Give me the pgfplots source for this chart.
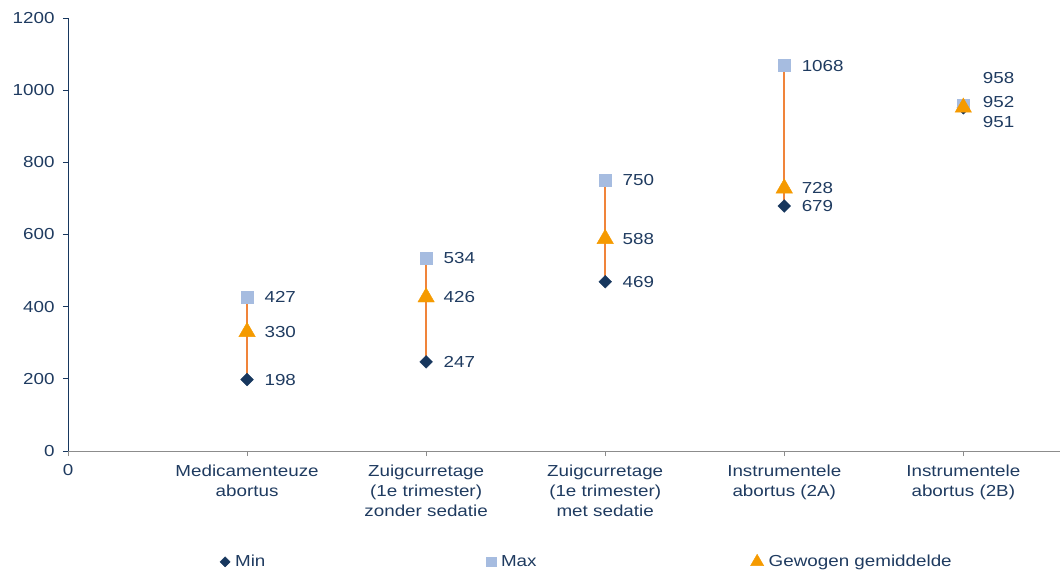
\documentclass[border=0pt]{standalone}
\usepackage{pgfplots}
\pgfplotsset{compat=1.18}
\usepackage{fontspec}
\setmainfont{Liberation Sans}[FakeStretch=1.18]
\definecolor{txt}{HTML}{1F3B60}
\definecolor{navy}{HTML}{17375E}
\definecolor{lblue}{HTML}{A6BCE0}
\definecolor{orng}{HTML}{F59A00}
\definecolor{oline}{HTML}{F0843A}
\definecolor{gaxis}{HTML}{8C8C8C}
\begin{document}
\begin{tikzpicture}[x=1bp,y=1bp]
\begin{axis}[
  scale only axis,
  width=992bp, height=433bp,
  xmin=0, xmax=5.54, ymin=0, ymax=1200,
  axis x line*=bottom, axis y line*=left,
  x axis line style={gaxis, line width=1pt, -},
  y axis line style={navy, line width=1pt, -},
  ytick={0,200,...,1200},
  xtick={0,1,2,3,4,5},
  xticklabels={0,{Medicamenteuze\\abortus},{Zuigcurretage\\(1e trimester)\\zonder sedatie},{Zuigcurretage\\(1e trimester)\\met sedatie},{Instrumentele\\abortus (2A)},{Instrumentele\\abortus (2B)}},
  tick align=outside,
  major tick length=5bp,
  ytick style={navy, line width=0.8pt},
  xtick style={gaxis, line width=0.6pt},
  yticklabel style={font=\fontsize{16}{19}\selectfont, text=txt, xshift=-5bp},
  xticklabel style={font=\fontsize{16}{20.5}\selectfont, text=txt, align=center, anchor=north, yshift=-5bp},
  /pgf/number format/assume math mode=true,
  /pgf/number format/1000 sep={},
  scaled y ticks=false,
  clip=false,
  legend columns=3,
  legend style={at={(rel axis cs:0.153,-0.256)}, anchor=west, draw=none, fill=none,
    font=\fontsize{16}{19}\selectfont, text=txt,
    /tikz/column 1/.style={column sep=3bp},
    /tikz/column 2/.style={column sep=219bp},
    /tikz/column 3/.style={column sep=3bp},
    /tikz/column 4/.style={column sep=212bp},
    /tikz/column 5/.style={column sep=3bp},
    cells={anchor=west}, inner sep=0pt},
  legend image code/.code={\draw[#1,/tikz/every mark/.append style={scale=0.8}] plot coordinates {(4bp,0bp)};},
  nodes near coords style={font=\fontsize{16}{19}\selectfont, text=txt, anchor=west},
]
% vertical min-max lines
\addplot[oline, line width=1.6pt, forget plot] coordinates {(1,198) (1,427)};
\addplot[oline, line width=1.6pt, forget plot] coordinates {(2,247) (2,534)};
\addplot[oline, line width=1.6pt, forget plot] coordinates {(3,469) (3,750)};
\addplot[oline, line width=1.6pt, forget plot] coordinates {(4,679) (4,1068)};
\addplot[oline, line width=1.6pt, forget plot] coordinates {(5,951) (5,958)};
% Min
\addplot[only marks, mark=square*, mark size=4.5bp, mark options={rotate=45}, color=navy,
  nodes near coords, nodes near coords style={xshift=14bp}]
  coordinates {(1,198) (2,247) (3,469) (4,679)};
\addlegendentry{Min}
% Max
\addplot[only marks, mark=square*, mark size=6bp, color=lblue,
  nodes near coords, nodes near coords style={xshift=14bp}]
  coordinates {(1,427) (2,534) (3,750) (4,1068)};
\addlegendentry{Max}
% Avg
\addplot[only marks, mark=triangle*, mark size=9.5bp, color=orng,
  nodes near coords, nodes near coords style={xshift=14bp}]
  coordinates {(1,330) (2,426) (3,588) (4,728)};
\addlegendentry{Gewogen gemiddelde}
% category 5 with shifted labels
\addplot[only marks, mark=square*, mark size=4.5bp, mark options={rotate=45}, color=navy, forget plot,
  nodes near coords, nodes near coords style={xshift=16bp, yshift=-14bp}]
  coordinates {(5,951)};
\addplot[only marks, mark=square*, mark size=6bp, color=lblue, forget plot,
  nodes near coords, nodes near coords style={xshift=16bp, yshift=27bp}]
  coordinates {(5,958)};
\addplot[only marks, mark=triangle*, mark size=9.5bp, color=orng, forget plot,
  nodes near coords, nodes near coords style={xshift=16bp, yshift=5bp}]
  coordinates {(5,952)};
\coordinate (O) at (rel axis cs:0,0);
\end{axis}
\path (O) ++(-68bp,-122bp) rectangle ++(1064bp,573bp);
\end{tikzpicture}
\end{document}
